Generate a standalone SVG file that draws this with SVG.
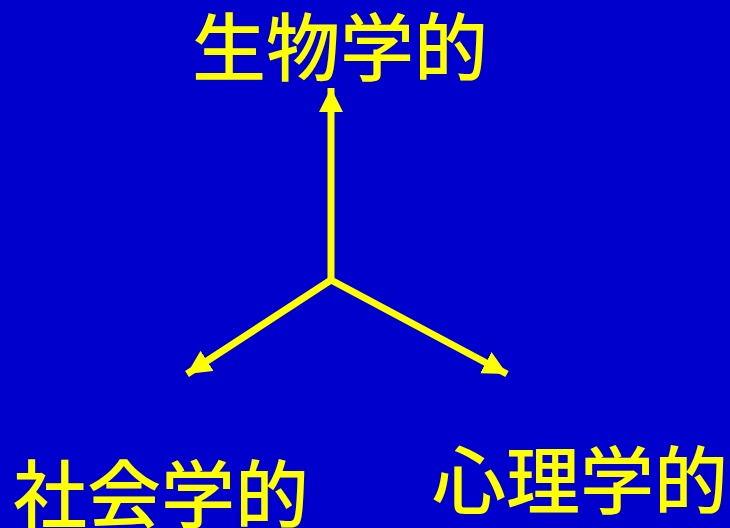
<svg xmlns="http://www.w3.org/2000/svg" width="730" height="528" viewBox="0 0 730 528">
<defs>
<style>
.lbl{font-family:"Noto Sans CJK JP","Noto Sans CJK SC",sans-serif;font-size:74px;font-weight:500;fill:#FFFF00;}
.ln{stroke:#FFFF00;stroke-width:7;fill:none;}
</style>
<marker id="ah" markerUnits="userSpaceOnUse" markerWidth="26" markerHeight="26" refX="24" refY="12" orient="auto">
<path d="M0,0 L24,12 L0,24 Z" fill="#FFFF00"/>
</marker>
</defs>
<rect width="730" height="528" fill="#0000CC"/>
<g id="connectors">
<line class="ln" x1="331" y1="282" x2="331" y2="88" marker-end="url(#ah)"/>
<line class="ln" x1="331" y1="280" x2="187" y2="374" marker-end="url(#ah)"/>
<line class="ln" x1="331" y1="280" x2="507" y2="374" marker-end="url(#ah)"/>
</g>
<g id="bio"><text class="lbl" x="192" y="75">生物学的</text></g>
<g id="soc"><text class="lbl" x="13" y="522">社会学的</text></g>
<g id="psy"><text class="lbl" x="432" y="508">心理学的</text></g>
</svg>
